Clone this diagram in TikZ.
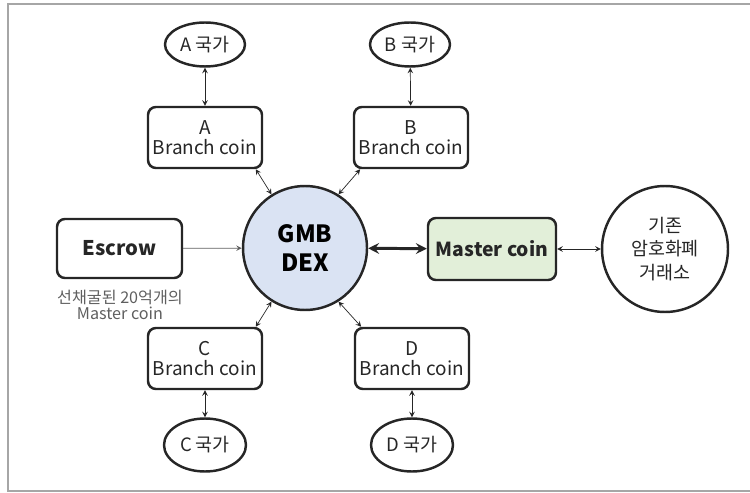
\documentclass[tikz,border=0pt]{standalone}
\usepackage{fontspec}
\setmainfont{Noto Sans CJK KR}
\usetikzlibrary{shapes.geometric}
\definecolor{dexblue}{RGB}{218,227,243}
\definecolor{mastergreen}{RGB}{226,239,217}
\definecolor{framegray}{RGB}{166,166,166}
\definecolor{notegray}{RGB}{95,95,95}
\definecolor{inkgray}{RGB}{38,38,38}

\begin{document}
\begin{tikzpicture}[>=stealth, x=0.02cm, y=-0.02cm,
  coinbox/.style={draw=inkgray, rounded corners=4.5pt, line width=1.4pt, minimum width=2.28cm,
    minimum height=1.22cm, align=center, inner sep=0pt, text=inkgray,
    font=\fontsize{10.8}{11.3}\selectfont},
  country/.style={draw=inkgray, shape=ellipse, line width=1.4pt, minimum width=1.6cm,
    minimum height=0.88cm, inner sep=0pt, text=inkgray, font=\fontsize{10.5}{12}\selectfont},
  bigcircle/.style={draw=inkgray, shape=circle, line width=1.4pt, inner sep=0pt, align=center},
  link/.style={<->, thin, draw=inkgray}]
\useasboundingbox (0,0) rectangle (750,493);
\clip (0,0) rectangle (750,493);
\draw [framegray, line width=1.1pt] (8,4) rectangle (760,491);

% countries and branch coins
\node (aCountry) at (205,44.5) [country] {A 국가};
\node (bCountry) at (410,44.5) [country] {B 국가};
\node (cCountry) at (205,445) [country, minimum width=1.64cm, minimum height=1.06cm] {C 국가};
\node (dCountry) at (412,445) [country, minimum width=1.64cm, minimum height=1.06cm] {D 국가};
\node (aCoin) at (205,137.5) [coinbox] {A\\Branch coin};
\node (bCoin) at (411,137.5) [coinbox] {B\\Branch coin};
\node (cCoin) at (205,358.5) [coinbox] {C\\Branch coin};
\node (dCoin) at (412,358.5) [coinbox] {D\\Branch coin};

% centre row
\node (dex) at (305,248) [bigcircle, fill=dexblue, minimum size=2.48cm,
  font=\fontsize{13.5}{16}\bfseries] {GMB\\DEX};
\node (escrow) at (119.5,248.5) [coinbox, minimum width=2.5cm, minimum height=1.18cm,
  font=\fontsize{11.5}{13}\bfseries] {Escrow};
\node (note) at (120,305) [align=center, text=notegray, inner sep=0pt,
  font=\fontsize{9.2}{9.2}\selectfont] {선채굴된 20억개의\\Master coin};
\node (master) at (492,249) [coinbox, fill=mastergreen, minimum width=2.56cm,
  minimum height=1.24cm, font=\fontsize{11}{13}\bfseries] {Master coin};
\node (exchange) at (665,249) [bigcircle, minimum size=2.52cm,
  font=\fontsize{10.5}{13.6}\selectfont, text=inkgray] {기존\\암호화폐\\거래소};

\draw [link] (aCountry) -- (aCoin);
\draw [link] (bCountry) -- (bCoin);
\draw [link] (cCoin) -- (cCountry);
\draw [link] (dCoin) -- (dCountry);
\draw [link] (aCoin.-32) -- (dex.122);
\draw [link] (bCoin.-148) -- (dex.58);
\draw [link] (cCoin.32) -- (dex.-122);
\draw [link] (dCoin.148) -- (dex.-58);
\draw [->, thin, draw=notegray] (escrow) -- (dex);
\draw [<->, line width=1.7pt, draw=inkgray] (dex) -- (master);
\draw [link] (master) -- (exchange);
\end{tikzpicture}
\end{document}
